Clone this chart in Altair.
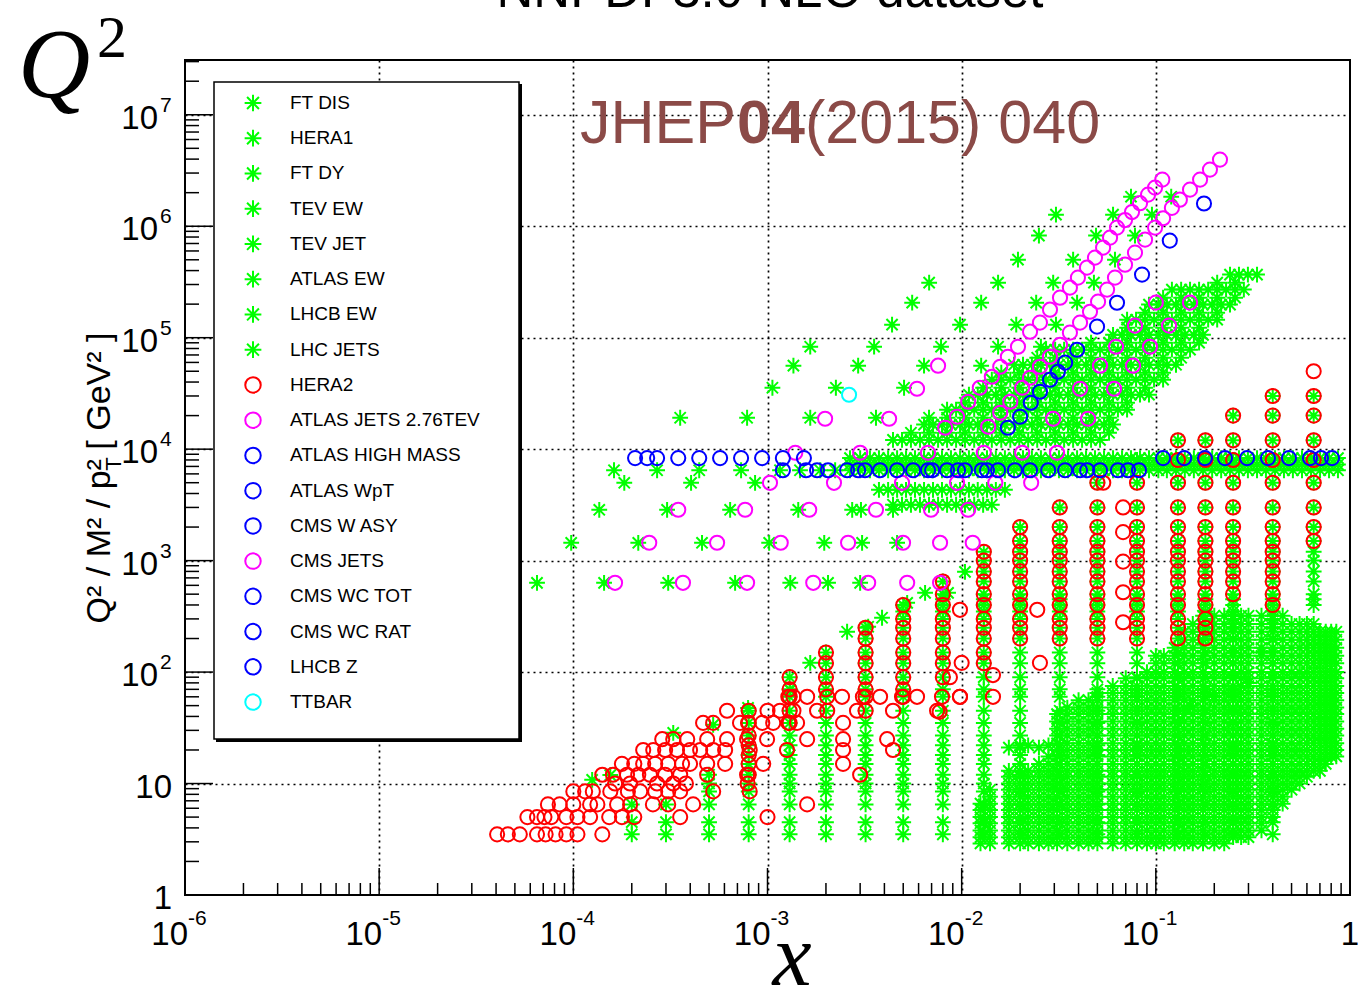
import altair as alt
import pandas as pd

GREEN = "#00ff00"
RED = "#ff0000"
MAGENTA = "#ff00ff"
BLUE = "#0000ff"
CYAN = "#00ffff"
STAR = "M-1,0L1,0M0,-1L0,1M-0.71,-0.71L0.71,0.71M-0.71,0.71L0.71,-0.71"

# ---------------- legend ----------------
legend_names = ["FT DIS", "HERA1", "FT DY", "TEV EW", "TEV JET", "ATLAS EW", "LHCB EW", "LHC JETS",
                "HERA2", "ATLAS JETS 2.76TEV", "ATLAS HIGH MASS", "ATLAS WpT", "CMS W ASY",
                "CMS JETS", "CMS WC TOT", "CMS WC RAT", "LHCB Z", "TTBAR"]
legend_colors = [GREEN] * 8 + [RED, MAGENTA, BLUE, BLUE, BLUE, MAGENTA, BLUE, BLUE, BLUE, CYAN]
legend_marker = ["star"] * 8 + ["circle"] * 10

# ---------------- FT DIS (columns in x, Q2 range) ----------------
ftdis_x = [0.0125, 0.014, 0.0175, 0.02, 0.022, 0.025, 0.028, 0.031, 0.035, 0.04,
           0.045, 0.05, 0.06, 0.07, 0.08, 0.09, 0.10, 0.11, 0.125, 0.14,
           0.155, 0.175, 0.20, 0.225, 0.25, 0.275, 0.30, 0.35, 0.40, 0.45,
           0.50, 0.55, 0.60, 0.65, 0.70, 0.75, 0.80, 0.85]
ftdis_q2max = [7.1, 8.8, 13, 13, 13, 15, 17.5, 44, 50, 56,
               62, 69, 80, 90, 95, 116, 150, 150, 175, 265,
               300, 320, 340, 340, 340, 340, 340, 340, 330, 320,
               300, 290, 280, 270, 260, 250, 240, 230]
ftdis_q2min = [2.8, 2.8, 2.8, 2.8, 2.8, 2.8, 2.8, 2.8, 2.8, 2.8,
               2.8, 2.8, 2.8, 2.8, 2.8, 2.8, 2.8, 2.8, 2.8, 2.8,
               2.8, 2.8, 2.8, 2.8, 3.1, 3.1, 3.3, 3.5, 4.5, 6.5,
               8.5, 9.5, 10.5, 12, 13, 14.7, 15.5, 16.3]
ftdis_q2grid = [2.9, 3.3, 3.8, 4.4, 5.0, 5.8, 6.6, 7.6, 8.8, 10, 11.5, 13, 15, 17.5, 20, 23,
                27, 31, 36, 42, 48, 56, 65, 75, 88, 100, 120, 140, 165, 195, 230, 270, 320]
ftdis_arm_x = [0.0175, 0.02, 0.022, 0.025, 0.028]
ftdis_arm_q2 = [21, 21, 22, 21, 22]

ftdy_x = [0.15, 0.2, 0.25, 0.3, 0.35]
ftdy_q2 = [50, 60, 120, 80, 150]

# ---------------- HERA1 ----------------
hera1_q2bins = [3.5, 4.5, 6.5, 8.5, 10, 12, 15, 18, 22, 27, 35, 45, 60, 70, 90, 120, 150, 200,
                250, 300, 350, 400, 450, 500, 650, 800, 1000, 1200, 1500, 2000, 3000, 5000,
                8000, 12000, 20000, 30000]
hera1_col_x = [0.0002, 0.0003, 0.0005, 0.0008, 0.0013, 0.002, 0.0032, 0.005, 0.008, 0.013,
               0.02, 0.032, 0.05, 0.08, 0.13, 0.18, 0.25, 0.40, 0.65]
hera1_col_lo = [3.5, 3.5, 3.5, 3.5, 3.5, 3.5, 3.5, 3.5, 3.5, 3.5,
                3.5, 3.5, 3.5, 3.5, 3.5, 3.5, 3.5, 3.5, 400]
hera1_col_hi = [6.5, 6.5, 12, 45, 90, 150, 250, 400, 650, 1200,
                2000, 3000, 5000, 8000, 12000, 12000, 20000, 30000, 30000]
hera1_diag_x = [1.25e-4, 1.55e-4, 3.27e-4, 5.25e-4, 7.94e-4, 1.31e-3, 1.66e-3, 2.57e-3,
                3.3e-3, 3.89e-3, 5.24e-3, 6.48e-3, 8.51e-3, 1.04e-2]
hera1_diag_q2 = [10.8, 11.9, 28.5, 33.6, 47.7, 69, 121, 230, 255, 307, 418, 514, 514, 793]

# ---------------- W/Z band (green) ----------------
MZ2 = 8315
MW2 = 6464
band_x = [3.37e-3, 3.75e-3, 4.18e-3, 4.65e-3, 5.17e-3, 5.75e-3, 6.4e-3, 7.12e-3, 7.92e-3, 8.81e-3,
          9.81e-3, 1.09e-2, 1.21e-2, 1.35e-2, 1.50e-2, 1.67e-2, 1.86e-2, 2.07e-2, 2.30e-2, 2.56e-2,
          2.85e-2, 3.17e-2, 3.53e-2, 3.93e-2, 4.37e-2, 4.86e-2, 5.41e-2, 6.02e-2, 6.70e-2, 7.45e-2,
          8.29e-2, 9.22e-2, 0.103, 0.114, 0.127, 0.141, 0.157, 0.175, 0.195, 0.217,
          0.241, 0.268, 0.298, 0.332]
band_x2 = [3.58e-3, 3.98e-3, 4.43e-3, 4.93e-3, 5.48e-3, 6.1e-3, 6.79e-3, 7.56e-3, 8.41e-3, 9.36e-3,
           1.04e-2, 1.16e-2, 1.29e-2, 1.43e-2, 1.60e-2, 1.78e-2, 1.98e-2, 2.20e-2, 2.45e-2, 2.72e-2,
           3.03e-2, 3.37e-2, 3.75e-2, 4.17e-2, 4.64e-2, 5.16e-2, 5.74e-2, 6.38e-2, 7.11e-2, 7.91e-2,
           8.8e-2, 9.79e-2, 0.109, 0.121, 0.135, 0.150, 0.167, 0.186, 0.207, 0.230,
           0.256, 0.284, 0.317]
ew_x_low = [1.16e-3, 1.47e-3, 1.87e-3, 2.23e-3, 2.66e-3, 3.0e-3]
ew_x_high = [0.369, 0.411, 0.457, 0.508, 0.566, 0.630, 0.701, 0.780, 0.867]
ew_rows_q2 = [MZ2, 7300, MW2]
ew_rows_xmin = [2.5e-3, 2.5e-3, 1.1e-3]
lhcbew_x = [1.62e-4, 2.7e-4, 4.45e-4, 7.31e-4]

# ---------------- jets, green dense band: rows (Q2, x-min, x-max) ----------------
tevjet_q2 = [368000, 270000, 198000, 145000, 106000, 78000, 57200, 42000, 30800, 22600,
             16600, 12100, 4320, 3170]
tevjet_xmin = [0.24, 0.12, 0.085, 0.07, 0.055, 0.0253, 0.0178, 0.0133, 0.0101, 0.0076,
               0.0058, 0.0043, 0.0034, 0.0040]
tevjet_xmax = [0.332, 0.29, 0.247, 0.214, 0.186, 0.159, 0.133, 0.111, 0.093, 0.078,
               0.064, 0.052, 0.0178, 0.0158]
lhcband_q2 = [311700, 228600, 167600, 123000, 90200, 66100, 48500, 35570, 26070, 19140, 14030]
lhcband_xmin = [0.19, 0.10, 0.078, 0.062, 0.04, 0.021, 0.0155, 0.0117, 0.0088, 0.0066, 0.0050]
lhcband_xmax = [0.31, 0.27, 0.23, 0.20, 0.17, 0.145, 0.122, 0.102, 0.085, 0.071, 0.058]

# ---------------- LHC jets, sparse green rows ----------------
lhcjet_rows = [
    (632, [6.5e-5, 1.44e-4, 3.08e-4, 6.81e-4, 1.31e-3, 2.05e-3, 3.0e-3]),
    (1445, [9.75e-5, 2.16e-4, 4.6e-4, 1.02e-3, 1.96e-3, 3.07e-3, 4.65e-3]),
    (2858, [1.36e-4, 3.04e-4, 6.42e-4, 1.44e-3, 2.73e-3, 3.03e-3, 4.43e-3]),
    (4990, [1.83e-4, 4.04e-4, 8.63e-4]),
    (19140, [3.55e-4, 7.85e-4, 1.66e-3, 3.62e-3]),
    (35570, [1.06e-3, 2.25e-3, 5.05e-3]),
    (56080, [1.36e-3, 2.93e-3, 6.4e-3, 1.26e-2]),
    (83000, [1.66e-3, 3.54e-3, 7.83e-3, 1.54e-2, 2.56e-2]),
    (130900, [4.38e-3, 9.81e-3, 1.91e-2, 3.06e-2]),
    (206200, [5.56e-3, 1.26e-2, 2.42e-2, 3.93e-2]),
    (311700, [6.8e-3, 1.54e-2, 2.96e-2, 4.8e-2]),
    (501000, [1.95e-2, 3.75e-2, 6.16e-2]),
    (824000, [2.5e-2, 4.92e-2, 7.81e-2]),
    (1270000, [3.06e-2, 6.02e-2, 9.55e-2]),
    (1840000, [7.45e-2, 0.12]),
]

# ---------------- HERA2 ----------------
hera2_rows = [
    (3.5, [4.05e-5, 4.6e-5, 5.3e-5, 6.5e-5, 7.2e-5, 8.1e-5, 9.2e-5, 1.05e-4, 1.41e-4]),
    (5.0, [5.8e-5, 6.5e-5, 7.1e-5, 7.7e-5, 9.2e-5, 1.05e-4, 1.22e-4, 1.53e-4, 1.78e-4, 2.06e-4, 3.55e-4, 1.0e-3]),
    (6.5, [7.4e-5, 8.5e-5, 1.0e-4, 1.22e-4, 1.33e-4, 1.68e-4, 1.96e-4, 2.57e-4, 3.08e-4, 4.14e-4, 1.6e-3]),
    (8.5, [1.0e-4, 1.15e-4, 1.26e-4, 1.55e-4, 1.91e-4, 2.21e-4, 2.64e-4, 3.08e-4, 3.55e-4, 5.25e-4, 8.1e-4]),
    (10, [1.64e-4, 1.96e-4, 2.7e-4, 3.27e-4, 3.8e-4, 7.9e-4]),
    (12, [1.41e-4, 1.6e-4, 1.89e-4, 2.16e-4, 2.48e-4, 2.97e-4, 3.55e-4, 4.89e-4, 7.85e-4, 3.0e-3]),
    (15, [1.78e-4, 2.06e-4, 2.29e-4, 2.64e-4, 3.08e-4, 3.63e-4, 3.99e-4, 4.89e-4, 6.05e-4, 9.5e-4, 2.45e-3]),
    (20, [2.29e-4, 2.58e-4, 2.97e-4, 3.42e-4, 3.99e-4, 4.5e-4, 5.25e-4, 6.05e-4, 8.1e-4, 1.26e-3, 2.45e-3, 4.43e-3]),
    (25, [2.87e-4, 3.27e-4, 3.86e-4, 4.89e-4, 6.19e-4, 7.85e-4, 9.95e-4, 1.6e-3, 2.45e-3, 4.13e-3]),
    (35, [4.66e-4, 5.25e-4, 7.22e-4, 7.94e-4, 9.4e-4, 1.07e-3, 1.28e-3, 1.42e-3, 2.45e-3]),
    (45, [6.19e-4, 1.0e-3, 1.16e-3, 1.36e-3, 1.8e-3, 2.03e-3, 2.89e-3, 4.43e-3, 7.47e-3]),
    (60, [1.28e-3, 1.36e-3, 1.6e-3, 2.03e-3, 2.42e-3, 3.1e-3, 3.8e-3, 4.93e-3, 5.89e-3, 7.92e-3, 9.8e-3]),
]
hera2_q2bins = [12, 15, 18, 22, 27, 35, 45, 60, 70, 90, 120, 150, 200, 250, 300, 400, 500, 650,
                800, 1000, 1200, 1500, 2000, 3000, 5000, 8000, 12000, 20000, 30000, 50000]
hera2_col_x = [0.0008, 0.0013, 0.002, 0.0032, 0.005, 0.008, 0.013, 0.02, 0.032, 0.05,
               0.08, 0.13, 0.18, 0.25, 0.40, 0.65]
hera2_col_lo = [12, 35, 70, 45, 60, 90, 120, 200, 200, 200, 200, 200, 200, 500, 400, 1500]
hera2_col_hi = [45, 90, 150, 250, 400, 650, 1200, 2000, 3000, 5000, 5000, 12000, 12000, 20000, 30000, 50000]
hera2_extra_x = [0.0678, 0.0678, 0.0678, 0.0678, 0.0678, 9.8e-3, 1.0e-2, 9.8e-3, 7.7e-3, 1.45e-2,
                 1.45e-2, 2.53e-2, 2.45e-2, 8.7e-3, 0.0536]
hera2_extra_q2 = [3000, 1800, 980, 520, 280, 362, 121, 60, 44, 94,
                  60, 121, 362, 90, 5000]

# ---------------- magenta: jets ----------------
atlas276_rows = [
    (632, [1.64e-4, 3.67e-4, 7.85e-4, 1.72e-3, 3.3e-3, 5.24e-3, 7.74e-3]),
    (1445, [2.46e-4, 5.5e-4, 1.17e-3, 2.6e-3, 4.99e-3, 7.74e-3, 1.14e-2]),
    (2858, [3.47e-4, 7.67e-4, 1.64e-3, 3.62e-3, 6.95e-3, 1.08e-2]),
    (4990, [1.03e-3, 2.2e-3, 4.93e-3, 9.47e-3, 1.49e-2, 2.28e-2]),
]
cmsjet_rows = [
    (9290, [1.39e-3, 3.0e-3, 6.71e-3, 1.30e-2, 2.05e-2, 3.1e-2]),
    (18750, [1.98e-3, 4.23e-3, 2.96e-2, 4.48e-2]),
    (34850, [5.89e-3, 4.07e-2, 6.09e-2]),
    (56080, [7.56e-3, 5.16e-2, 7.63e-2]),
    (83000, [6.24e-2, 9.33e-2]),
    (128200, [7.81e-2, 0.117]),
    (206200, [0.100, 0.150]),
]
diag1_x = [8.22e-3, 9.47e-3, 1.08e-2, 1.24e-2, 1.43e-2, 1.58e-2, 1.73e-2, 1.95e-2, 2.25e-2, 2.53e-2,
           2.85e-2, 3.21e-2, 3.61e-2, 3.97e-2, 4.42e-2, 4.86e-2, 5.35e-2, 5.81e-2, 6.31e-2, 6.94e-2,
           7.54e-2, 8.29e-2, 9.12e-2, 9.91e-2, 0.108]
diag1_q2 = [15560, 19540, 26600, 35570, 44650, 54900, 67500, 83000, 113200, 136400,
            178300, 228600, 281100, 345700, 425000, 522600, 642500, 790000, 972000, 1136000,
            1340000, 1610000, 1920000, 2220000, 2620000]
diag2_x = [1.37e-2, 1.58e-2, 1.78e-2, 2.05e-2, 2.25e-2, 2.53e-2, 2.85e-2, 3.21e-2, 3.61e-2, 4.07e-2,
           4.58e-2, 5.04e-2, 5.61e-2, 6.16e-2, 6.94e-2, 7.81e-2, 8.8e-2, 9.91e-2, 0.109, 0.121,
           0.133, 0.150, 0.169, 0.190, 0.214]
diag2_q2 = [15890, 21230, 26600, 35570, 43750, 54900, 67500, 86500, 111000, 136400,
            171000, 210500, 270000, 345700, 452000, 580000, 758000, 972000, 1180000, 1460000,
            1730000, 2130000, 2620000, 3220000, 3960000]

# ---------------- blue / cyan ----------------
hm_x = [0.0173, 0.0200, 0.0227, 0.0253, 0.0285, 0.0313, 0.0341, 0.0393, 0.0498, 0.0631, 0.0849, 0.118, 0.177]
hm_q2 = [15560, 19540, 26070, 32700, 41960, 49500, 59700, 78000, 125600, 206000, 368000, 743000, 1600000]
cmsw_x = [1.2e-3, 1.58e-3, 1.8e-3, 2.05e-3, 2.57e-3, 2.93e-3, 3.18e-3, 3.8e-3, 4.65e-3, 5.62e-3,
          6.71e-3, 7.04e-3, 8.41e-3, 9.58e-3, 1.04e-2, 1.27e-2, 1.35e-2, 1.54e-2, 1.88e-2, 2.25e-2,
          2.79e-2, 3.41e-2, 4.07e-2, 4.43e-2, 5.16e-2, 6.38e-2, 7.19e-2, 8.19e-2]
lhcbz_x = [2.08e-4, 2.4e-4, 2.7e-4, 3.47e-4, 4.45e-4, 5.7e-4, 7.31e-4, 9.38e-4, 1.2e-3, 1.54e-3,
           0.109, 0.140, 0.179, 0.227, 0.295, 0.378, 0.485, 0.622, 0.709, 0.808]
ttbar_x = [2.63e-3]
ttbar_q2 = [30800]

# ---------------- axis text ----------------
xlab_vals = [1e-6, 1e-5, 1e-4, 1e-3, 1e-2, 1e-1]
xlab_exp = ["-6", "-5", "-4", "-3", "-2", "-1"]
ylab_vals = [1e2, 1e3, 1e4, 1e5, 1e6, 1e7]
ylab_exp = ["2", "3", "4", "5", "6", "7"]

# =====================================================================
STAR_SIZE = 250
CIRC_SIZE = 200
style = {}
for n, c, m in zip(legend_names, legend_colors, legend_marker):
    style[n] = (STAR if m == "star" else "circle", c, STAR_SIZE if m == "star" else CIRC_SIZE)

pts = []


def put(ds, xl, ql):
    for xv, qv in zip(xl, ql):
        pts.append({"x": xv, "q2": qv, "ds": ds})


for xv, lo, hi in zip(ftdis_x, ftdis_q2min, ftdis_q2max):
    qs = [q for q in ftdis_q2grid if lo <= q <= hi]
    put("FT DIS", [xv] * len(qs), qs)
put("FT DIS", ftdis_arm_x, ftdis_arm_q2)
for xv, lo, hi in zip(hera1_col_x, hera1_col_lo, hera1_col_hi):
    qs = [q for q in hera1_q2bins if lo <= q <= hi]
    put("HERA1", [xv] * len(qs), qs)
put("HERA1", hera1_diag_x, hera1_diag_q2)
put("FT DY", ftdy_x, ftdy_q2)
allx = ew_x_low + band_x + ew_x_high
for q, xmin in zip(ew_rows_q2, ew_rows_xmin):
    xl = [v for v in allx if v >= xmin]
    put("TEV EW" if q == 7300 else "ATLAS EW", xl, [q] * len(xl))
for i, (q, lo, hi) in enumerate(zip(tevjet_q2, tevjet_xmin, tevjet_xmax)):
    grid = band_x if i % 2 == 0 else band_x2
    xl = [v for v in grid if lo <= v <= hi]
    put("TEV JET", xl, [q] * len(xl))
put("LHCB EW", lhcbew_x, [MW2] * len(lhcbew_x))
sparse_grid = band_x2[::2]
for q, lo, hi in zip(lhcband_q2, lhcband_xmin, lhcband_xmax):
    xl = [v for v in sparse_grid if lo <= v <= hi]
    put("LHC JETS", xl, [q] * len(xl))
for q, xl in lhcjet_rows:
    put("LHC JETS", xl, [q] * len(xl))
for q, xl in hera2_rows:
    put("HERA2", xl, [q] * len(xl))
for xv, lo, hi in zip(hera2_col_x, hera2_col_lo, hera2_col_hi):
    qs = [q for q in hera2_q2bins if lo <= q <= hi]
    put("HERA2", [xv] * len(qs), qs)
put("HERA2", hera2_extra_x, hera2_extra_q2)
for q, xl in atlas276_rows:
    put("ATLAS JETS 2.76TEV", xl, [q] * len(xl))
put("ATLAS HIGH MASS", hm_x, hm_q2)
put("CMS W ASY", cmsw_x, [MW2] * len(cmsw_x))
for q, xl in cmsjet_rows:
    put("CMS JETS", xl, [q] * len(xl))
put("CMS JETS", diag1_x, diag1_q2)
put("CMS JETS", diag2_x, diag2_q2)
put("LHCB Z", lhcbz_x, [MZ2] * len(lhcbz_x))
put("TTBAR", ttbar_x, ttbar_q2)

df = pd.DataFrame(pts)
df["shape"] = [style[d][0] for d in df["ds"]]
df["color"] = [style[d][1] for d in df["ds"]]
df["size"] = [style[d][2] for d in df["ds"]]

W, H = 1165, 835
xs = alt.Scale(type="log", domain=[1e-6, 1.0], nice=False)
ys = alt.Scale(type="log", domain=[1.0, 3.1e7], nice=False)
xaxis = alt.Axis(values=[1e-5, 1e-4, 1e-3, 1e-2, 1e-1], grid=True, gridDash=[2, 4], gridColor="black",
                 gridWidth=1.7, gridOpacity=1, labels=False, ticks=False, domain=False, title=None)
yaxis = alt.Axis(values=[10, 1e2, 1e3, 1e4, 1e5, 1e6, 1e7], grid=True, gridDash=[2, 4], gridColor="black",
                 gridWidth=1.7, gridOpacity=1, labels=False, ticks=False, domain=False, title=None)
X = alt.X("x:Q", scale=xs, axis=xaxis)
Y = alt.Y("y:Q", scale=ys, axis=yaxis)

# ---- ticks ----
x_major = [1e-6, 1e-5, 1e-4, 1e-3, 1e-2, 1e-1, 1.0]
x_minor = [m * 10.0 ** k for k in range(-6, 0) for m in range(2, 10)]
y_major = [1.0, 10.0, 1e2, 1e3, 1e4, 1e5, 1e6, 1e7]
y_minor = [m * 10.0 ** k for k in range(0, 8) for m in range(2, 10) if m * 10.0 ** k <= 3.1e7]

tick_xmaj = alt.Chart(pd.DataFrame({"x": x_major})).mark_rule(color="black", strokeWidth=1.5).encode(
    x=X, y=alt.value(H), y2=alt.value(H - 27))
tick_xmin = alt.Chart(pd.DataFrame({"x": x_minor})).mark_rule(color="black", strokeWidth=1.5).encode(
    x=X, y=alt.value(H), y2=alt.value(H - 12))
tick_ymaj = alt.Chart(pd.DataFrame({"y": y_major})).mark_rule(color="black", strokeWidth=1.5).encode(
    y=Y, x=alt.value(0), x2=alt.value(28))
tick_ymin = alt.Chart(pd.DataFrame({"y": y_minor})).mark_rule(color="black", strokeWidth=1.5).encode(
    y=Y, x=alt.value(0), x2=alt.value(14))

points = alt.Chart(df).mark_point(filled=False, opacity=1, strokeWidth=2).encode(
    x=alt.X("x:Q", scale=xs, axis=xaxis),
    y=alt.Y("q2:Q", scale=ys, axis=yaxis),
    shape=alt.Shape("shape:N", scale=None),
    color=alt.Color("color:N", scale=None),
    size=alt.Size("size:Q", scale=None),
)

# ---- legend ----
one = pd.DataFrame({"a": [0]})
leg_shadow = alt.Chart(one).mark_rect(fill="black").encode(
    x=alt.value(31), x2=alt.value(337), y=alt.value(24), y2=alt.value(682))
leg_box = alt.Chart(one).mark_rect(fill="white", stroke="black", strokeWidth=1.5).encode(
    x=alt.value(29), x2=alt.value(334), y=alt.value(22), y2=alt.value(679))
leg_df = pd.DataFrame({
    "name": legend_names,
    "color": legend_colors,
    "shape": [STAR if m == "star" else "circle" for m in legend_marker],
    "size": [280 if m == "star" else 240 for m in legend_marker],
    "ly": [43 + 35.24 * i for i in range(len(legend_names))],
})
leg_sym = alt.Chart(leg_df).mark_point(filled=False, opacity=1, strokeWidth=2).encode(
    x=alt.value(68),
    y=alt.Y("ly:Q", scale=None, axis=None),
    shape=alt.Shape("shape:N", scale=None),
    color=alt.Color("color:N", scale=None),
    size=alt.Size("size:Q", scale=None),
)
leg_txt = alt.Chart(leg_df).mark_text(align="left", baseline="middle", font="Liberation Sans",
                                      fontSize=19, color="black").encode(
    x=alt.value(105), y=alt.Y("ly:Q", scale=None, axis=None), text="name:N")

# ---- tick labels ----
FONT = "Liberation Sans"
xl_df = pd.DataFrame({"x": xlab_vals, "e": xlab_exp})
xl_base = alt.Chart(xl_df).mark_text(align="right", baseline="alphabetic", font=FONT, fontSize=33,
                                     dx=3, color="black").encode(
    x=X, y=alt.value(H + 50), text=alt.value("10"))
xl_exp = alt.Chart(xl_df).mark_text(align="left", baseline="alphabetic", font=FONT, fontSize=21,
                                    dx=3, color="black").encode(
    x=X, y=alt.value(H + 30), text="e:N")
xl_one = alt.Chart(pd.DataFrame({"x": [1.0]})).mark_text(align="center", baseline="alphabetic", font=FONT,
                                                        fontSize=33, color="black").encode(
    x=X, y=alt.value(H + 50), text=alt.value("1"))
yl_df = pd.DataFrame({"y": ylab_vals, "e": ylab_exp})
yl_base = alt.Chart(yl_df).mark_text(align="right", baseline="alphabetic", font=FONT, fontSize=33,
                                     dy=14, color="black").encode(
    y=Y, x=alt.value(-27), text=alt.value("10"))
yl_exp = alt.Chart(yl_df).mark_text(align="left", baseline="alphabetic", font=FONT, fontSize=21,
                                    dy=-3, color="black").encode(
    y=Y, x=alt.value(-25), text="e:N")
yl_low = alt.Chart(pd.DataFrame({"y": [1.0, 10.0], "t": ["1", "10"]})).mark_text(
    align="right", baseline="alphabetic", font=FONT, fontSize=33, dy=14, color="black").encode(
    y=Y, x=alt.value(-13), text="t:N")


# ---- titles ----
def txt(s, x, y, size, font=FONT, style="normal", weight="normal", color="black", angle=0, align="left",
        baseline="alphabetic"):
    return alt.Chart(one).mark_text(text=s, font=font, fontSize=size, fontStyle=style, fontWeight=weight,
                                    color=color, angle=angle, align=align, baseline=baseline).encode(
        x=alt.value(x), y=alt.value(y))


title = txt("NNPDF3.0 NLO dataset", 585, -53, 51, align="center")
q2a = txt("Q", -167, 37, 100, font="Liberation Serif", style="italic")
q2b = txt("2", -88, -3, 60, font="Liberation Serif")
xt = txt("x", 607, 925, 88, font="Liberation Serif", style="italic", align="center")
ytitle = txt("Q² / M² / p²  [ GeV² ]", -85, 418, 34, angle=270, align="center", baseline="middle")
ysub = txt("T", -71, 404, 22, angle=270, align="center", baseline="middle")
WM = "#8b4a47"
wm1 = txt("JHEP", 395, 83, 61, color=WM)
wm2 = txt("04", 552, 83, 61, color=WM, weight="bold")
wm3 = txt("(2015) 040", 620, 83, 61, color=WM)

chart = alt.layer(
    tick_xmaj, tick_xmin, tick_ymaj, tick_ymin, points,
    leg_shadow, leg_box, leg_sym, leg_txt,
    xl_base, xl_exp, xl_one, yl_base, yl_exp, yl_low,
    title, q2a, q2b, xt, ytitle, ysub, wm1, wm2, wm3,
).properties(
    width=W, height=H, autosize="none",
    padding={"left": 185, "top": 60, "right": 20, "bottom": 97},
    background="white",
).configure_view(stroke="black", strokeWidth=2)

chart.save("out.html", embed_options={"renderer": "svg", "actions": False})
